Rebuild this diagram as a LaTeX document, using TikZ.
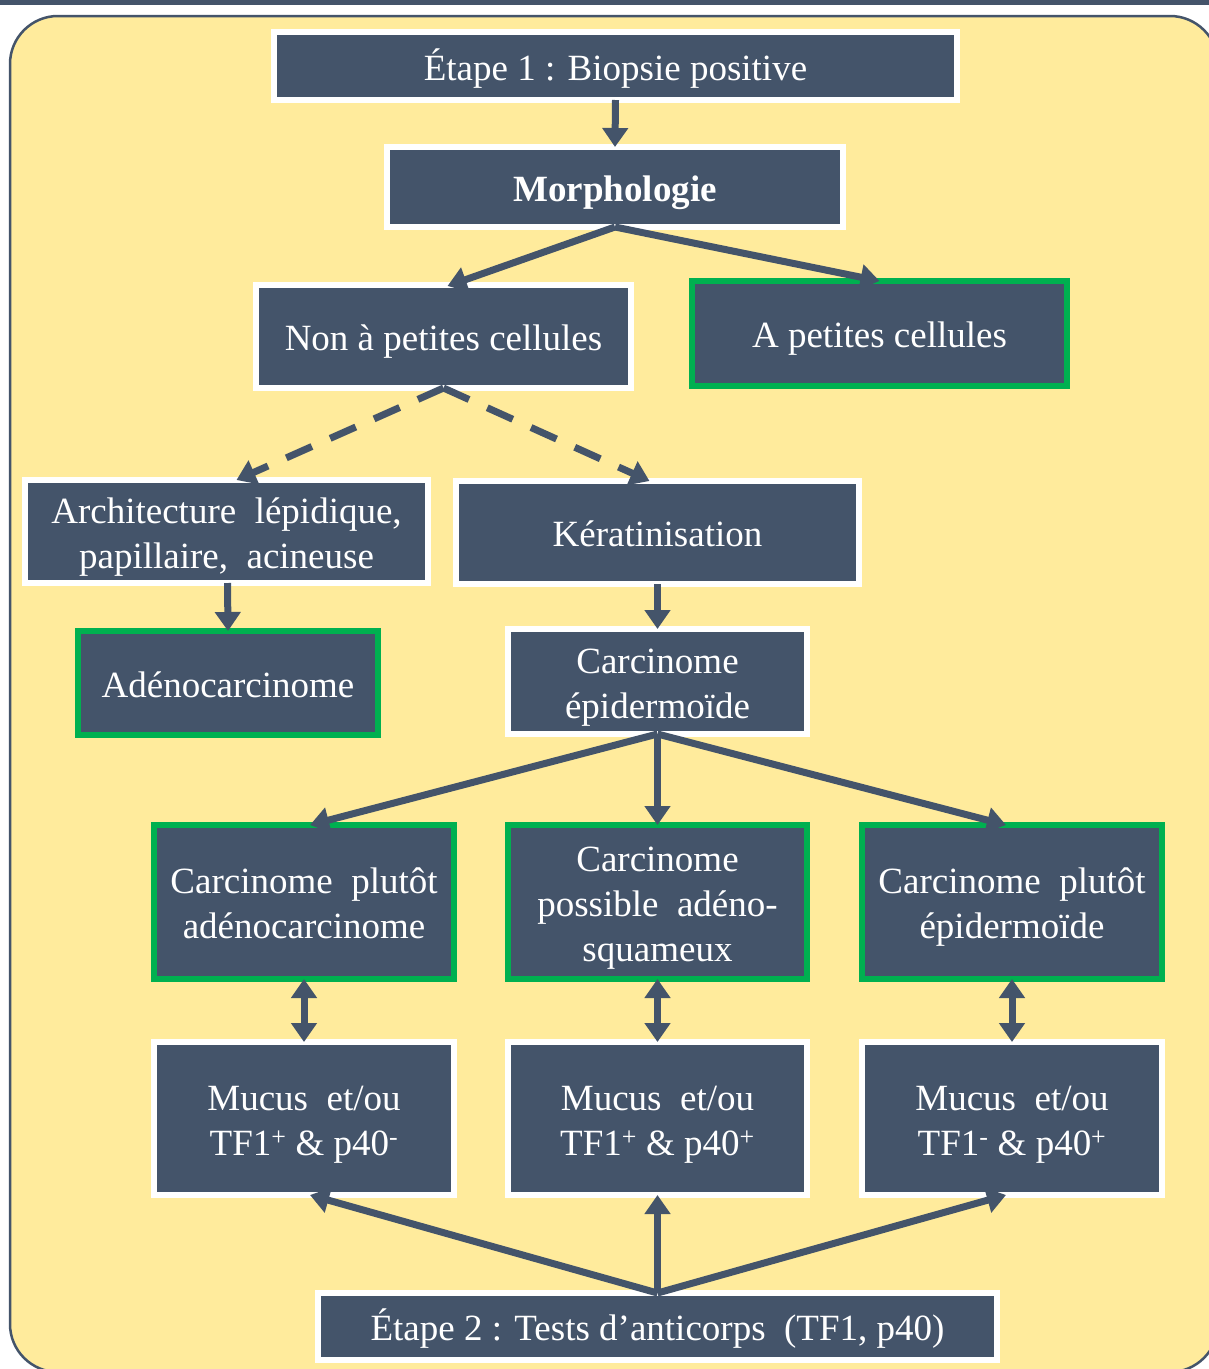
\documentclass[tikz,border=0pt]{standalone}
\usepackage{fontspec}
\setmainfont{Liberation Serif}
\usetikzlibrary{arrows.meta}
\definecolor{dk}{HTML}{44546A}
\definecolor{yl}{HTML}{FFEB9C}
\definecolor{gr}{HTML}{00B050}
\newcommand\tS{\rule{0pt}{40pt}}
\newcommand\bS{\rule[-12pt]{0pt}{12pt}}
\tikzset{
  box/.style={fill=dk, draw=white, line width=6pt, text=white, align=center, inner sep=0pt,
    font=\fontsize{37}{45}\selectfont},
  gbox/.style={box, draw=gr},
  conn/.style={draw=dk, line width=7pt, -{Triangle[width=25pt,length=19pt]}},
  dconn/.style={conn, dash pattern=on 28pt off 20pt},
  biconn/.style={draw=dk, line width=7pt, {Triangle[width=25pt,length=19pt]}-{Triangle[width=25pt,length=19pt]}},
}
\begin{document}
\begin{tikzpicture}[x=1pt,y=-1pt]
\useasboundingbox (0,0) rectangle (1209,1369);
\fill[white] (0,0) rectangle (1209,1369);
\fill[dk] (0,0) rectangle (1209,5);
\draw[fill=yl, draw=dk, line width=2.5pt, rounded corners=48pt] (10,16) rectangle (1218,1372);

\node[box, minimum width=683pt, minimum height=68pt] (e1) at (615.5,66) {\tS Étape 1 : Biopsie positive\bS};
\node[box, minimum width=456pt, minimum height=80pt, font=\fontsize{37}{45}\selectfont\bfseries] (morph) at (615,187) {\tS Morphologie\bS};
\node[box, minimum width=375pt, minimum height=103pt] (non) at (443.5,336.5) {\tS Non à petites cellules\bS};
\node[gbox, minimum width=375pt, minimum height=105pt] (apc) at (879.5,333.5) {\tS A petites cellules\bS};
\node[box, minimum width=403pt, minimum height=103pt] (arch) at (226.5,531.5) {\tS Architecture\ \ lépidique,\\papillaire,\ \ acineuse\bS};
\node[box, minimum width=403pt, minimum height=103pt] (kera) at (657.5,532.5) {\tS Kératinisation\bS};
\node[gbox, minimum width=300pt, minimum height=104pt] (adeno) at (228,683) {\tS Adénocarcinome\bS};
\node[box, minimum width=299pt, minimum height=105pt] (cep) at (657.5,681.5) {\tS Carcinome\\épidermoïde\bS};
\node[gbox, minimum width=300pt, minimum height=154pt] (c1) at (304,902) {\tS Carcinome\ \ plutôt\\adénocarcinome\bS};
\node[gbox, minimum width=299pt, minimum height=154pt] (c2) at (657.5,902) {\tS Carcinome\\possible\ \ adéno-\\squameux\bS};
\node[gbox, minimum width=300pt, minimum height=154pt] (c3) at (1012,902) {\tS Carcinome\ \ plutôt\\épidermoïde\bS};
\node[box, minimum width=300pt, minimum height=153pt] (m1) at (304,1118.5) {\tS Mucus\ \ et/ou\\TF1\textsuperscript{+} \& p40\textsuperscript{-}\bS};
\node[box, minimum width=299pt, minimum height=153pt] (m2) at (657.5,1118.5) {\tS Mucus\ \ et/ou\\TF1\textsuperscript{+} \& p40\textsuperscript{+}\bS};
\node[box, minimum width=300pt, minimum height=153pt] (m3) at (1012,1118.5) {\tS Mucus\ \ et/ou\\TF1\textsuperscript{-} \& p40\textsuperscript{+}\bS};
\node[box, minimum width=679pt, minimum height=67pt] (e2) at (657.5,1326.5) {\tS Étape 2 : Tests d’anticorps\ \ (TF1, p40)\bS};

\draw[conn] ([yshift=3pt]e1.south) -- ([yshift=-3pt]morph.north);
\draw[conn] ([yshift=3pt]morph.south) -- ([xshift=4pt,yshift=-4pt]non.north);
\draw[conn] ([yshift=3pt]morph.south) -- ([yshift=-3pt]apc.north);
\draw[dconn] ([yshift=3pt]non.south) -- ([xshift=10pt,yshift=-3pt]arch.north);
\draw[dconn] ([yshift=3pt]non.south) -- ([xshift=-8pt,yshift=-3pt]kera.north);
\draw[conn] ([xshift=1pt,yshift=3pt]arch.south) -- ([yshift=-3pt]adeno.north);
\draw[conn] ([yshift=3pt]kera.south) -- ([yshift=-3pt]cep.north);
\draw[conn] ([yshift=3pt]cep.south) -- ([xshift=6pt,yshift=-3pt]c1.north);
\draw[conn] ([yshift=3pt]cep.south) -- ([yshift=-3pt]c2.north);
\draw[conn] ([yshift=3pt]cep.south) -- ([xshift=-6pt,yshift=-3pt]c3.north);
\draw[biconn] ([yshift=3pt]c1.south) -- ([yshift=-3pt]m1.north);
\draw[biconn] ([yshift=3pt]c2.south) -- ([yshift=-3pt]m2.north);
\draw[biconn] ([yshift=3pt]c3.south) -- ([yshift=-3pt]m3.north);
\draw[conn] ([yshift=-3pt]e2.north) -- ([xshift=6pt,yshift=3pt]m1.south);
\draw[conn] ([yshift=-3pt]e2.north) -- ([yshift=3pt]m2.south);
\draw[conn] ([yshift=-3pt]e2.north) -- ([xshift=-6pt,yshift=3pt]m3.south);
\end{tikzpicture}
\end{document}
